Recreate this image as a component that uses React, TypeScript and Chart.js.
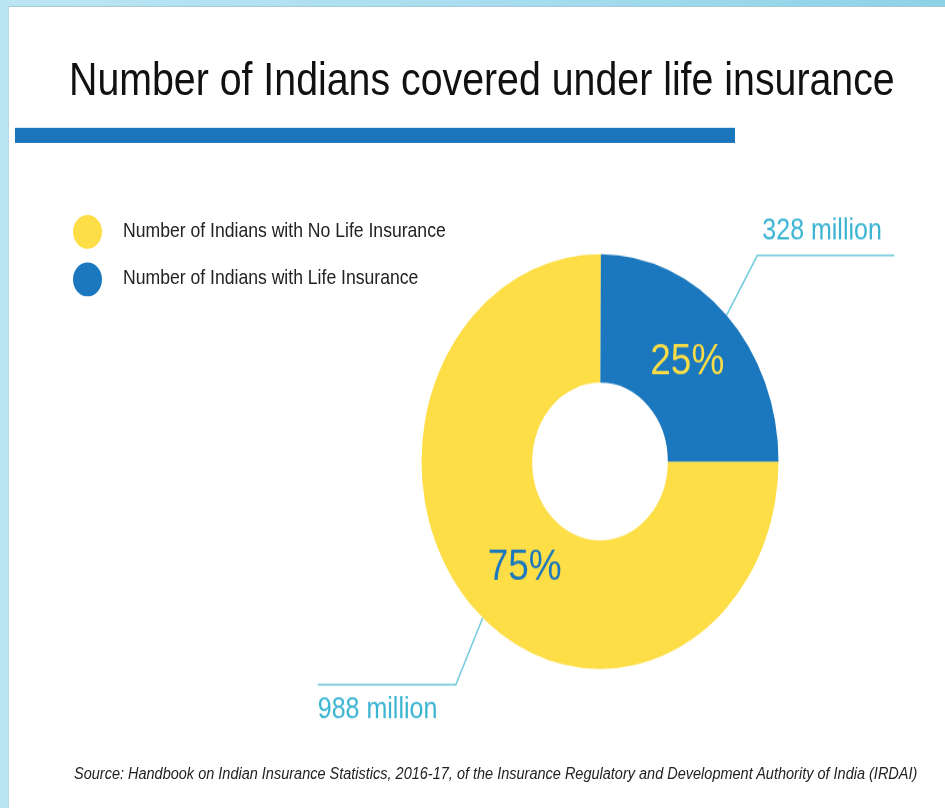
import React, { useEffect, useRef } from "react";
import { Chart, registerables } from "chart.js";

Chart.register(...registerables);

// ---------- data ----------
const categories = [
  "Number of Indians with No Life Insurance",
  "Number of Indians with Life Insurance",
];
const valuesMillion = [988, 328];
const calloutUnit = "million";
const titleText = "Number of Indians covered under life insurance";
const sourceText =
  "Source: Handbook on Indian Insurance Statistics, 2016-17, of the Insurance Regulatory and Development Authority of India (IRDAI)";

// ---------- styling ----------
const sliceColors = ["#FDDE46", "#1B78BE"];
const percentLabelColors = ["#1B78BE", "#FDDE46"];
const FONT = '"Liberation Sans", Arial, Helvetica, sans-serif';
const SY = 1.162; // vertical stretch of the original picture
const W = 945;
const H = 808;
const STAGE_H = H / SY;
const CANVAS_H = 695;

const percentOffsets = [
  [12, 4.5],
  [0, 1],
];
const callouts = [
  { frac: 0.485, elbow: [-26.9, 57.6], run: -138, textDx: 0, textDy: 28.7 },
  { frac: 0.5, elbow: [30.8, -51.5], run: 137, textDx: 5, textDy: -13.8 },
];

const annotatePlugin = {
  id: "annotate",
  afterDatasetsDraw(chart: any) {
    const ctx = chart.ctx;
    const meta = chart.getDatasetMeta(0);
    const data = chart.data.datasets[0].data as number[];
    const total = data.reduce((a, b) => a + b, 0);
    meta.data.forEach((el: any, i: number) => {
      const p = el.getProps(
        ["x", "y", "startAngle", "endAngle", "innerRadius", "outerRadius"],
        true
      );
      const mid = (p.startAngle + p.endAngle) / 2;
      const rMid = (p.innerRadius + p.outerRadius) / 2;
      const [ox, oy] = percentOffsets[i];
      ctx.save();
      ctx.font = `37px ${FONT}`;
      ctx.fillStyle = percentLabelColors[i];
      ctx.textAlign = "center";
      ctx.textBaseline = "middle";
      ctx.fillText(
        `${Math.round((data[i] / total) * 100)}%`,
        p.x + Math.cos(mid) * rMid + ox,
        p.y + Math.sin(mid) * rMid + oy
      );

      const c = callouts[i];
      const a = p.startAngle + (p.endAngle - p.startAngle) * c.frac;
      const sx = p.x + Math.cos(a) * p.outerRadius;
      const sy = p.y + Math.sin(a) * p.outerRadius;
      const ex = sx + c.elbow[0];
      const ey = sy + c.elbow[1];
      const hx = ex + c.run;
      ctx.strokeStyle = "#6FCADC";
      ctx.lineWidth = 1.5;
      ctx.beginPath();
      ctx.moveTo(sx, sy);
      ctx.lineTo(ex, ey);
      ctx.lineTo(hx, ey);
      ctx.stroke();

      ctx.font = `25px ${FONT}`;
      ctx.fillStyle = "#3AB4D2";
      ctx.textAlign = "left";
      ctx.textBaseline = "alphabetic";
      ctx.fillText(
        `${data[i]} ${calloutUnit}`,
        Math.min(ex, hx) + c.textDx,
        ey + c.textDy
      );
      ctx.restore();
    });
  },
};

function DonutChart() {
  const ref = useRef<HTMLCanvasElement | null>(null);
  useEffect(() => {
    if (!ref.current) return;
    const chart = new Chart(ref.current, {
      type: "doughnut",
      data: {
        labels: categories,
        datasets: [
          {
            data: valuesMillion,
            backgroundColor: sliceColors,
            borderWidth: 0,
            hoverOffset: 0,
          },
        ],
      },
      options: {
        responsive: false,
        animation: false,
        devicePixelRatio: 1,
        rotation: 90,
        cutout: "38%",
        events: [],
        layout: {
          padding: { left: 421.5, right: 166.5, top: 218.7, bottom: 119.3 },
        },
        plugins: {
          legend: { display: false },
          tooltip: { enabled: false },
          title: { display: false },
        },
      },
      plugins: [annotatePlugin],
    } as any);
    return () => chart.destroy();
  }, []);
  return (
    <canvas
      ref={ref}
      width={W}
      height={CANVAS_H}
      style={{ position: "absolute", left: 0, top: 0, width: W, height: CANVAS_H }}
    />
  );
}

// place text by baseline (line-height = font-size)
function textTop(baseline: number, fs: number) {
  return baseline - 0.8465 * fs;
}

export default function App() {
  const legendY = [199.7, 240.1];
  const legendBase = [204.6, 245];
  return (
    <div
      style={{
        position: "fixed",
        left: 0,
        top: 0,
        width: W,
        height: H,
        overflow: "hidden",
        background: "linear-gradient(90deg, #bce5f4 0%, #a9def0 50%, #8ed2e6 100%)",
        fontFamily: FONT,
      }}
    >
      <div
        style={{
          position: "absolute",
          left: 8,
          top: 6,
          right: 0,
          bottom: 0,
          background: "#ffffff",
          borderTop: "1px solid #a6c9d6",
          borderLeft: "1px solid #b9d9e4",
        }}
      />
      <div
        style={{
          position: "absolute",
          left: 0,
          top: 0,
          width: W,
          height: STAGE_H,
          transform: `scaleY(${SY})`,
          transformOrigin: "0 0",
        }}
      >
        <div
          style={{
            position: "absolute",
            left: 69,
            top: textTop(81.8, 39.3),
            fontSize: 39.3,
            lineHeight: "39.3px",
            color: "#111111",
            whiteSpace: "nowrap",
          }}
        >
          {titleText}
        </div>
        <div
          style={{
            position: "absolute",
            left: 15,
            top: 110.2,
            width: 720,
            height: 12.9,
            background: "#1B75BB",
          }}
        />
        {categories.map((c, i) => (
          <React.Fragment key={c}>
            <div
              style={{
                position: "absolute",
                left: 72.5,
                top: legendY[i] - 14.5,
                width: 29,
                height: 29,
                borderRadius: "50%",
                background: sliceColors[i],
              }}
            />
            <div
              style={{
                position: "absolute",
                left: 123,
                top: textTop(legendBase[i], 17.6),
                fontSize: 17.6,
                lineHeight: "17.6px",
                color: "#222222",
                whiteSpace: "nowrap",
              }}
            >
              {c}
            </div>
          </React.Fragment>
        ))}
        <DonutChart />
        <div
          style={{
            position: "absolute",
            left: 74,
            top: textTop(669.8, 14.5),
            fontSize: 14.5,
            lineHeight: "14.5px",
            fontStyle: "italic",
            color: "#222222",
            whiteSpace: "nowrap",
          }}
        >
          {sourceText}
        </div>
      </div>
    </div>
  );
}
